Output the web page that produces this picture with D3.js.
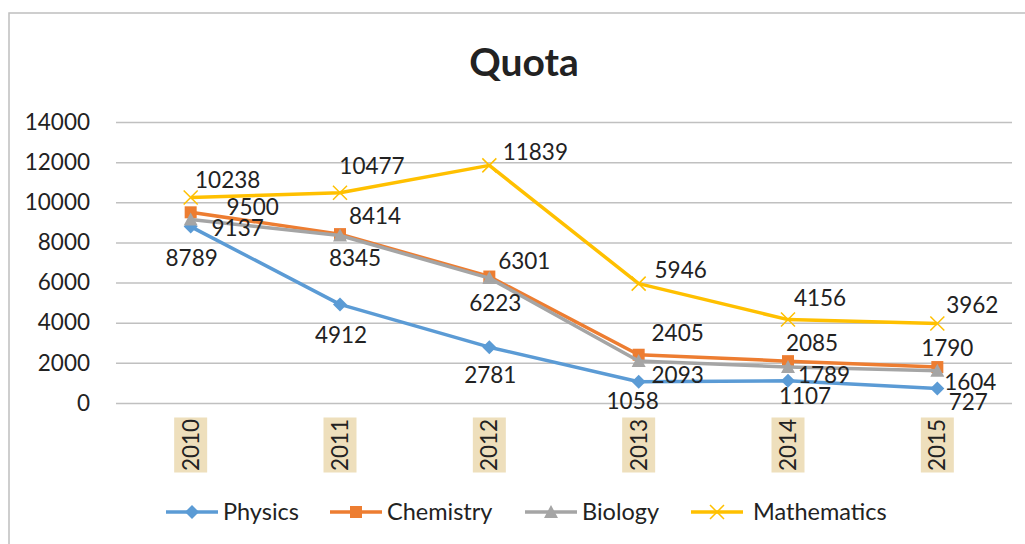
<!DOCTYPE html>
<html>
<head>
<meta charset="utf-8">
<script src="https://cdn.jsdelivr.net/npm/d3@7"></script>
<style>
  body { margin: 0; background: #fff; }
  svg { display: block; font-family: Lato, "Liberation Sans", sans-serif; }
</style>
</head>
<body>
<div class="chart"></div>
<script>
const years = ["2010", "2011", "2012", "2013", "2014", "2015"];
const physics = [8789, 4912, 2781, 1058, 1107, 727];
const chemistry = [9500, 8414, 6301, 2405, 2085, 1790];
const biology = [9137, 8345, 6223, 2093, 1789, 1604];
const mathematics = [10238, 10477, 11839, 5946, 4156, 3962];
const yTicks = [0, 2000, 4000, 6000, 8000, 10000, 12000, 14000];

// where each data label sits relative to its point (px)
const physicsNudge = [[1, 31], [1, 30], [1, 28], [-6, 19], [17, 15], [31, 13]];
const chemistryNudge = [[62, -5], [35, -18], [35, -16], [39, -22], [24, -18], [10, -19]];
const biologyNudge = [[47, 8], [15, 22], [6, 25], [39, 14], [36, 8], [33, 11]];
const mathNudge = [[37, -18], [32, -27], [46, -13], [42, -14], [32, -22], [35, -19]];

const series = [
  { name: "Physics", values: physics, nudge: physicsNudge, color: "#5b9bd5", marker: "diamond" },
  { name: "Chemistry", values: chemistry, nudge: chemistryNudge, color: "#ed7d31", marker: "square" },
  { name: "Biology", values: biology, nudge: biologyNudge, color: "#a5a5a5", marker: "triangle" },
  { name: "Mathematics", values: mathematics, nudge: mathNudge, color: "#ffc000", marker: "x" },
];

const W = 1025, H = 544;
const plotLeft = 116, plotRight = 1012, plotTop = 122, plotBottom = 403;

const svg = d3.select(".chart").append("svg").attr("width", W).attr("height", H);

// chart frame
svg.append("rect")
  .attr("x", 9).attr("y", 13)
  .attr("width", 1100).attr("height", 600)
  .attr("fill", "#fff").attr("stroke", "#bfbfbf").attr("stroke-width", 1.5);

svg.append("text")
  .attr("x", 524).attr("y", 76)
  .attr("text-anchor", "middle")
  .style("font-size", "39px").style("font-weight", "bold")
  .attr("fill", "#222")
  .text("Quota");

const x = d3.scalePoint().domain(years).range([plotLeft, plotRight]).padding(0.5);
const y = d3.scaleLinear().domain([0, 14000]).range([plotBottom, plotTop]);

// y axis with gridlines
const yAxis = svg.append("g")
  .attr("transform", "translate(" + plotLeft + ",0)")
  .call(d3.axisLeft(y).tickValues(yTicks).tickFormat(d3.format("d"))
    .tickSize(-(plotRight - plotLeft)).tickPadding(26));
yAxis.select(".domain").remove();
yAxis.selectAll(".tick line").attr("stroke", "#c0c0c0").attr("stroke-width", 1.5);
yAxis.selectAll(".tick text")
  .style("font-size", "22.5px").style("font-family", "Lato, sans-serif")
  .attr("fill", "#222");

// x tick labels, rotated on beige boxes
const xTick = svg.append("g").selectAll("g")
  .data(years).enter().append("g")
  .attr("transform", (d) => "translate(" + x(d) + ",445)");
xTick.append("rect")
  .attr("x", -16.5).attr("y", -27.5)
  .attr("width", 33).attr("height", 55)
  .attr("fill", "#eedfbc");
xTick.append("text")
  .attr("transform", "rotate(-90)")
  .attr("text-anchor", "middle")
  .attr("dy", "0.36em")
  .style("font-size", "22.5px")
  .attr("fill", "#222")
  .text((d) => d);

function drawMarker(g, type, color) {
  if (type === "diamond") {
    g.append("path").attr("d", "M0,-7L7,0L0,7L-7,0Z").attr("fill", color);
  } else if (type === "square") {
    g.append("rect").attr("x", -6).attr("y", -6).attr("width", 12).attr("height", 12).attr("fill", color);
  } else if (type === "triangle") {
    g.append("path").attr("d", "M0,-7L7,6L-7,6Z").attr("fill", color);
  } else {
    g.append("path").attr("d", "M-7,-7L7,7M-7,7L7,-7")
      .attr("stroke", color).attr("stroke-width", 1.5).attr("fill", "none");
  }
}

const line = d3.line()
  .x((d, i) => x(years[i]))
  .y((d) => y(d));

series.forEach(function (s) {
  svg.append("path")
    .datum(s.values)
    .attr("d", line)
    .attr("fill", "none")
    .attr("stroke", s.color)
    .attr("stroke-width", 3.5)
    .attr("stroke-linejoin", "round");

  s.values.forEach(function (v, i) {
    const g = svg.append("g").attr("transform", "translate(" + x(years[i]) + "," + y(v) + ")");
    drawMarker(g, s.marker, s.color);
  });
});

// data labels on top
series.forEach(function (s) {
  svg.append("g").selectAll("text")
    .data(s.values).enter().append("text")
    .attr("x", (d, i) => x(years[i]) + s.nudge[i][0])
    .attr("y", (d, i) => y(d) + s.nudge[i][1])
    .attr("text-anchor", "middle")
    .attr("dy", "0.36em")
    .style("font-size", "22.5px")
    .attr("fill", "#222")
    .text((d) => d);
});

// legend
const legendX = [192, 356, 551, 717];
const legend = svg.append("g").selectAll("g")
  .data(series).enter().append("g")
  .attr("transform", (d, i) => "translate(" + legendX[i] + ",512)");
legend.append("line")
  .attr("x1", -26).attr("x2", 26)
  .attr("stroke", (d) => d.color).attr("stroke-width", 3.5);
legend.each(function (d) {
  drawMarker(d3.select(this), d.marker, d.color);
});
legend.append("text")
  .attr("x", (d) => (d.marker === "x" ? 36 : 31))
  .attr("dy", "0.36em")
  .style("font-size", "23.5px")
  .attr("fill", "#222")
  .text((d) => d.name);
</script>
</body>
</html>
